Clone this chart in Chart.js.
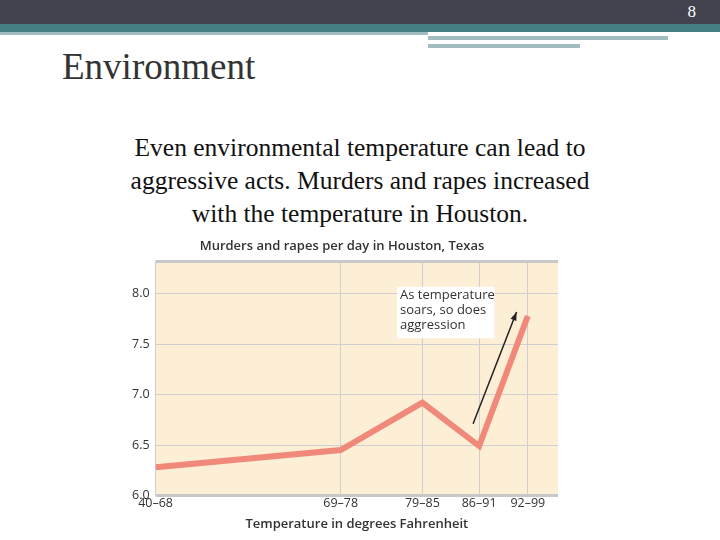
<!DOCTYPE html>
<html><head><meta charset="utf-8">
<script src="https://cdn.jsdelivr.net/npm/chart.js@4"></script>
<style>
body{margin:0;width:720px;height:540px;background:#fff;position:relative;overflow:hidden;font-family:"Liberation Serif",serif}
#bar1{position:absolute;left:0;top:0;width:720px;height:24px;background:#42424f}
#bar2{position:absolute;left:0;top:24px;width:720px;height:8px;background:#457e84}
#bar3{position:absolute;left:0;top:32px;width:428px;height:3px;background:#a3bcc0}
#bar4{position:absolute;left:428px;top:36px;width:240px;height:4px;background:#a3bcc0}
#bar5{position:absolute;left:428px;top:44px;width:152px;height:4px;background:#a3bcc0}
#pg{position:absolute;right:24px;top:2px;color:#fff;font-size:17px}
#title{position:absolute;left:62px;top:45px;font-size:37px;color:#333}
#body{position:absolute;left:40px;width:640px;top:131px;text-align:center;font-size:25.5px;line-height:33px;color:#111}
#wrap{position:absolute;left:126px;top:236px;width:444px;height:300px}
</style></head><body>
<div id="bar1"></div><div id="bar2"></div><div id="bar3"></div><div id="bar4"></div><div id="bar5"></div>
<div id="pg">8</div>
<div id="title">Environment</div>
<div id="body">Even environmental temperature can lead to<br>aggressive acts. Murders and rapes increased<br>with the temperature in Houston.</div>
<div id="wrap"><canvas id="c"></canvas></div>
<script>
const ranges=["40–68","69–78","79–85","86–91","92–99"];
const xAt=[0,46,66.3,80.4,92.5];
const perDay=[6.28,6.45,6.92,6.49,7.78];
const noteLines=["As temperature","soars, so does","aggression"];

const decor={
  id:"decor",
  beforeDraw(ch){
    const a=ch.chartArea,c=ch.ctx;
    c.save();c.fillStyle="#fcefd6";c.fillRect(a.left,a.top,a.right-a.left,a.bottom-a.top);c.restore();
  },
  afterDatasetsDraw(ch){
    const c=ch.ctx,x=ch.scales.x,y=ch.scales.y,a=ch.chartArea;
    c.save();
    c.strokeStyle="#c8c8c8";c.lineWidth=3;
    c.beginPath();c.moveTo(a.left,a.top);c.lineTo(a.right,a.top);c.stroke();
    c.beginPath();c.moveTo(a.left,a.bottom);c.lineTo(a.right,a.bottom);c.stroke();
    const bx=x.getPixelForValue(60),by=y.getPixelForValue(8.07);
    const bx2=x.getPixelForValue(84.2),by2=y.getPixelForValue(7.56);
    c.fillStyle="#fff";c.fillRect(bx,by,bx2-bx,by2-by);
    c.fillStyle="#333";c.font="13px 'Open Sans', sans-serif";c.textBaseline="top";
    noteLines.forEach((t,i)=>c.fillText(t,bx+3,by+2+i*15));
    const x1=x.getPixelForValue(78.9),y1=y.getPixelForValue(6.71);
    const x2=x.getPixelForValue(89.7),y2=y.getPixelForValue(7.82);
    c.strokeStyle="#222";c.lineWidth=1.5;
    c.beginPath();c.moveTo(x1,y1);c.lineTo(x2,y2);c.stroke();
    const ang=Math.atan2(y2-y1,x2-x1);
    c.fillStyle="#222";c.beginPath();c.moveTo(x2,y2);
    c.lineTo(x2-9*Math.cos(ang-0.35),y2-9*Math.sin(ang-0.35));
    c.lineTo(x2-9*Math.cos(ang+0.35),y2-9*Math.sin(ang+0.35));c.closePath();c.fill();
    c.restore();
  }
};

new Chart(document.getElementById("c"),{
  type:"line",
  data:{datasets:[{data:xAt.map((v,i)=>({x:v,y:perDay[i]})),borderColor:"#f0897a",borderWidth:6,pointRadius:0,tension:0,borderJoinStyle:"miter"}]},
  options:{
    responsive:true,maintainAspectRatio:false,animation:false,
    layout:{padding:{left:0,right:12,top:0,bottom:0}},
    plugins:{
      legend:{display:false},tooltip:{enabled:false},
      title:{display:true,text:"Murders and rapes per day in Houston, Texas",color:"#333",font:{family:"'Open Sans', sans-serif",size:13,weight:"600"},padding:{top:2,bottom:8}}
    },
    scales:{
      x:{type:"linear",min:0,max:100,
        afterBuildTicks(s){s.ticks=xAt.map(v=>({value:v}));},
        ticks:{autoSkip:false,maxRotation:0,color:"#333",font:{family:"'Open Sans', sans-serif",size:12.5},padding:1,
          callback:(v)=>ranges[xAt.indexOf(v)]},
        grid:{color:"#cfcfcf",drawTicks:false},border:{display:false},
        title:{display:true,text:"Temperature in degrees Fahrenheit",color:"#333",font:{family:"'Open Sans', sans-serif",size:13,weight:"600"},padding:{top:4}}
      },
      y:{min:6,max:8.32,
        afterBuildTicks(s){s.ticks=[6,6.5,7,7.5,8].map(v=>({value:v}));},
        ticks:{color:"#333",font:{family:"'Open Sans', sans-serif",size:12.5},padding:6,callback:v=>v.toFixed(1)},
        grid:{color:"#cfcfcf",drawTicks:false},border:{display:false}
      }
    }
  },
  plugins:[decor]
});
</script>
</body></html>
